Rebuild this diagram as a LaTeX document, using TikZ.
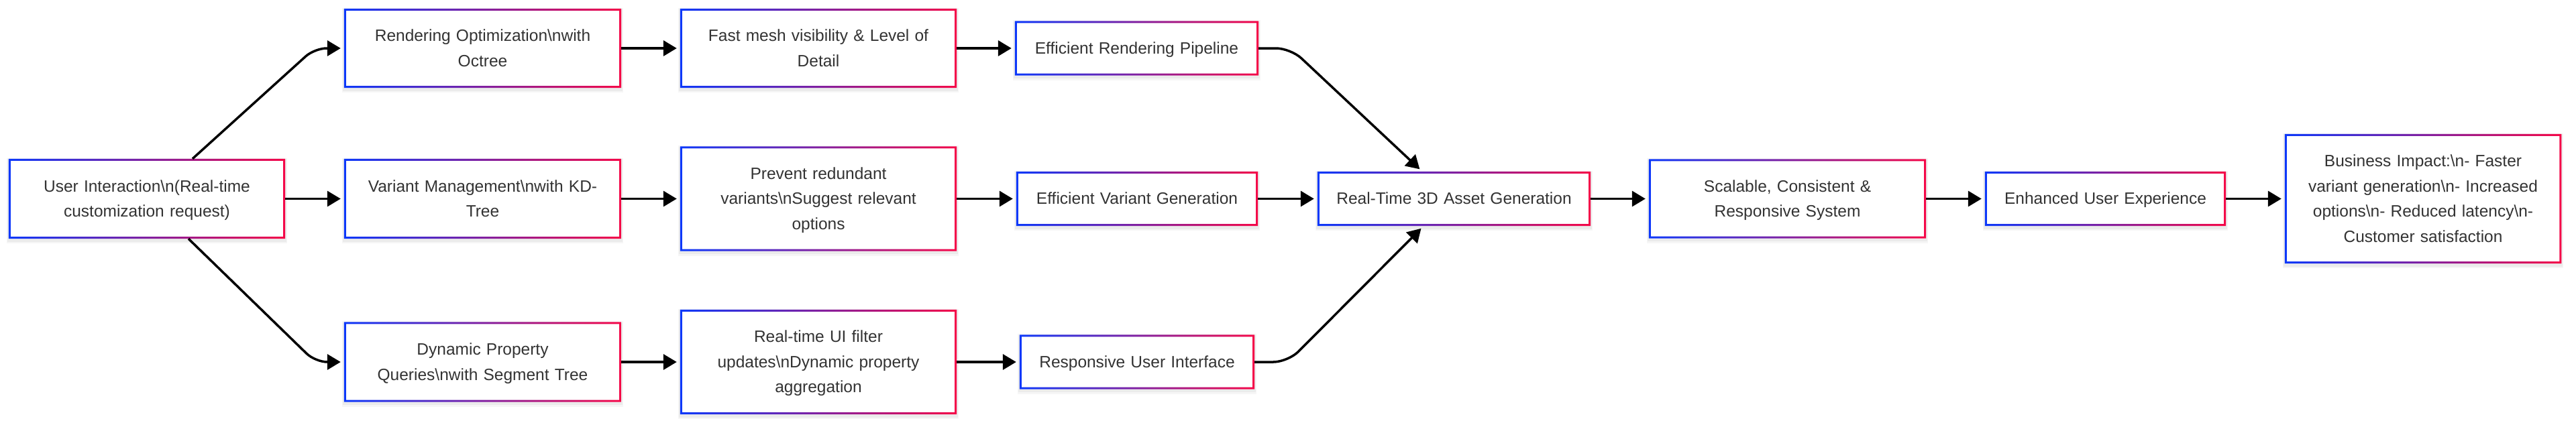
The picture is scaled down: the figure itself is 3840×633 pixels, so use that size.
\documentclass[tikz,border=0pt]{standalone}
\usepackage{fontspec}
\setmainfont{Liberation Sans}
\usetikzlibrary{arrows.meta}
\pgfdeclarelayer{background}
\pgfsetlayers{background,main}
\definecolor{cblue}{RGB}{12,56,250}
\definecolor{cred}{RGB}{245,8,72}
\definecolor{txt}{RGB}{51,51,51}
\newcommand\fs{\fontsize{24.5pt}{37.5pt}\selectfont}
\newcommand\st{\rule[-10.3pt]{0pt}{37.5pt}}
\newcommand\bs{\textbackslash}
\newcommand\gframe[1]{%
  \begin{pgfonlayer}{background}
  \fill[black,opacity=0.035] ([shift={(-3pt,-7pt)}]#1.south west) rectangle ([shift={(3pt,1pt)}]#1.north east);
  \fill[black,opacity=0.045] ([shift={(-1.5pt,-4.5pt)}]#1.south west) rectangle ([shift={(1.5pt,-0.5pt)}]#1.north east);
  \fill[white] (#1.south west) rectangle (#1.north east);
  \shade[left color=cblue,right color=cred,even odd rule]
    (#1.south west) rectangle (#1.north east)
    ([shift={(3pt,3pt)}]#1.south west) rectangle ([shift={(-3pt,-3pt)}]#1.north east);
  \end{pgfonlayer}}
\tikzset{
  box/.style={inner sep=0pt, align=center, font=\fs, text=txt, text width=#1},
  box/.default=395pt,
  arr/.style={line width=3.5pt, -{Triangle[length=20pt,width=23pt]}, shorten >=5pt},
}
\begin{document}
\begin{tikzpicture}[x=1pt,y=-1pt]
\useasboundingbox (0,0) rectangle (3840,633);
% nodes
\node[box, minimum width=412pt, minimum height=119pt] (UI) at (219,296.5) {\st User Interaction\bs n(Real-time\\\st customization request)};
\node[box, minimum width=413pt, minimum height=118pt] (RO) at (719.5,72) {\st Rendering Optimization\bs nwith\\\st Octree};
\node[box, minimum width=413pt, minimum height=119pt] (VM) at (719.5,296.5) {\st Variant Management\bs nwith KD-\\\st Tree};
\node[box, minimum width=413pt, minimum height=119pt] (DP) at (719.5,540) {\st Dynamic Property\\\st Queries\bs nwith Segment Tree};
\node[box, minimum width=412pt, minimum height=118pt] (FM) at (1220,72) {\st Fast mesh visibility \& Level of\\\st Detail};
\node[box, minimum width=412pt, minimum height=156pt] (PR) at (1220,296.5) {\st Prevent redundant\\\st variants\bs nSuggest relevant\\\st options};
\node[box, minimum width=412pt, minimum height=156pt] (RT) at (1220,540) {\st Real-time UI filter\\\st updates\bs nDynamic property\\\st aggregation};
\node[box=340pt, minimum width=363pt, minimum height=81pt] (ERP) at (1694.5,72) {\st Efficient Rendering Pipeline};
\node[box=340pt, minimum width=360pt, minimum height=81pt] (EVG) at (1695,296.5) {\st Efficient Variant Generation};
\node[box=330pt, minimum width=350pt, minimum height=81pt] (RUI) at (1695,540) {\st Responsive User Interface};
\node[box=385pt, minimum width=407pt, minimum height=81pt] (R3D) at (2167.5,296.5) {\st Real-Time 3D Asset Generation};
\node[box, minimum width=413pt, minimum height=118pt] (SC) at (2664.5,296.5) {\st Scalable, Consistent \&\\\st Responsive System};
\node[box=340pt, minimum width=359pt, minimum height=81pt] (EUX) at (3138.5,296.5) {\st Enhanced User Experience};
\node[box, minimum width=412pt, minimum height=193pt] (BI) at (3612,296.5) {\st Business Impact:\bs n- Faster\\\st variant generation\bs n- Increased\\\st options\bs n- Reduced latency\bs n-\\\st Customer satisfaction};
\foreach \n in {UI,RO,VM,DP,FM,PR,RT,ERP,EVG,RUI,R3D,SC,EUX,BI}{\gframe{\n}}
% bend points
\coordinate (c1) at (469,72);
\coordinate (c2) at (470,540);
\coordinate (c3) at (1924,72);
\coordinate (c4) at (1920,540);
% connectors
\draw[arr, rounded corners=18pt] ([xshift=68pt]UI.north) -- (c1) -- (RO.west);
\draw[arr] (UI.east) -- (VM.west);
\draw[arr, rounded corners=18pt] ([xshift=62pt]UI.south) -- (c2) -- (DP.west);
\draw[arr] (RO.east) -- (FM.west);
\draw[arr] (VM.east) -- (PR.west);
\draw[arr] (DP.east) -- (RT.west);
\draw[arr] (FM.east) -- (ERP.west);
\draw[arr] (PR.east) -- (EVG.west);
\draw[arr] (RT.east) -- (RUI.west);
\draw[arr, rounded corners=22pt] (ERP.east) -- (c3) -- ([xshift=-47.5pt]R3D.north);
\draw[arr] (EVG.east) -- (R3D.west);
\draw[arr, rounded corners=22pt] (RUI.east) -- (c4) -- ([xshift=-45.5pt]R3D.south);
\draw[arr] (R3D.east) -- (SC.west);
\draw[arr] (SC.east) -- (EUX.west);
\draw[arr] (EUX.east) -- (BI.west);
\end{tikzpicture}
\end{document}
